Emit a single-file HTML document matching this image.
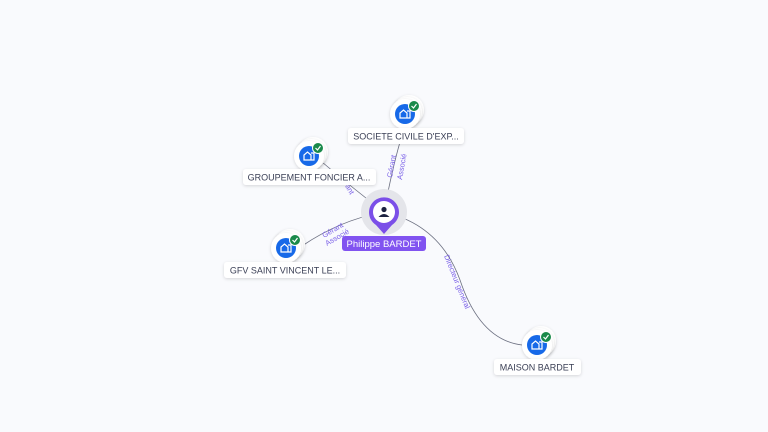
<!DOCTYPE html>
<html><head><style>
body{margin:0;background:#f9fafd;}
svg{display:block;font-family:"Liberation Sans",sans-serif;}
</style></head><body>
<svg width="768" height="432" viewBox="0 0 768 432" xmlns="http://www.w3.org/2000/svg">
<defs>
<filter id="sh" x="-50%" y="-50%" width="200%" height="200%"><feDropShadow dx="0" dy="1" stdDeviation="1.5" flood-color="#000" flood-opacity="0.15"/></filter>
<g id="co">
<circle cx="4" cy="-4" r="15" fill="#fff" filter="url(#sh)"/>
<circle cx="2" cy="-2" r="15" fill="#fff" filter="url(#sh)"/>
<circle cx="0" cy="0" r="15" fill="#fff" filter="url(#sh)"/>
<circle cx="0" cy="0" r="10" fill="#1769e8"/>
<path d="M-5 4 V-1 L-1.5 -4 L2 -1 V4 Z M2 -3 H5 V4 H2" fill="none" stroke="#fff" stroke-width="1.2"/>
<circle cx="9" cy="-8" r="5.5" fill="#1a8a4a" stroke="#fff" stroke-width="1"/>
<path d="M6.5 -8 L8.5 -6 L11.5 -10" fill="none" stroke="#fff" stroke-width="1.2"/>
</g>
</defs>
<g fill="none" stroke="#6b6f80" stroke-width="0.8">
<path d="M384 212 Q392 170 400 142"/>
<path d="M384 212 Q355 190 322 162"/>
<path d="M384 212 Q340 220 302 246"/>
<path d="M384 212 Q440 225 460 280 Q480 340 522 345"/>
</g>
<g fill="#7b61e8" font-size="7.5">
<text transform="translate(392,178) rotate(-80)">Gérant</text>
<text transform="translate(402,180) rotate(-80)">Associé</text>
<text transform="translate(345,186) rotate(60)">ant</text>
<text transform="translate(324,238) rotate(-30)">Gérant</text>
<text transform="translate(327,246) rotate(-30)">Associé</text>
<text transform="translate(444,256) rotate(68)">Directeur général</text>
</g>
<use href="#co" x="405" y="114"/>
<use href="#co" x="309" y="156"/>
<use href="#co" x="286" y="248"/>
<use href="#co" x="537" y="345"/>
<g font-size="9" fill="#3a3f55" text-anchor="middle">
<rect x="348" y="128" width="116" height="16" rx="3" fill="#fff" filter="url(#sh)"/>
<text x="406" y="139.5">SOCIETE CIVILE D'EXP...</text>
<rect x="243" y="169" width="133" height="16" rx="3" fill="#fff" filter="url(#sh)"/>
<text x="309" y="180.5">GROUPEMENT FONCIER A...</text>
<rect x="224" y="262" width="122" height="16" rx="3" fill="#fff" filter="url(#sh)"/>
<text x="285" y="273.5">GFV SAINT VINCENT LE...</text>
<rect x="494" y="359" width="87" height="16" rx="3" fill="#fff" filter="url(#sh)"/>
<text x="537" y="370.5">MAISON BARDET</text>
</g>
<circle cx="384" cy="212" r="23" fill="#e4e5ea"/>
<path d="M369 212 A15 15 0 1 1 392 225 L384 234 L376 225 A15 15 0 0 1 369 212Z" fill="#7b4fe8"/>
<circle cx="384" cy="212" r="11" fill="#fff"/>
<circle cx="384" cy="209.5" r="2.6" fill="#1c2240"/>
<path d="M378.5 217 Q384 211 389.5 217Z" fill="#1c2240"/>
<rect x="342" y="236" width="84" height="15" rx="3" fill="#8153f0"/>
<text x="384" y="247" font-size="9.5" fill="#fff" text-anchor="middle">Philippe BARDET</text>
</svg>
</body></html>
